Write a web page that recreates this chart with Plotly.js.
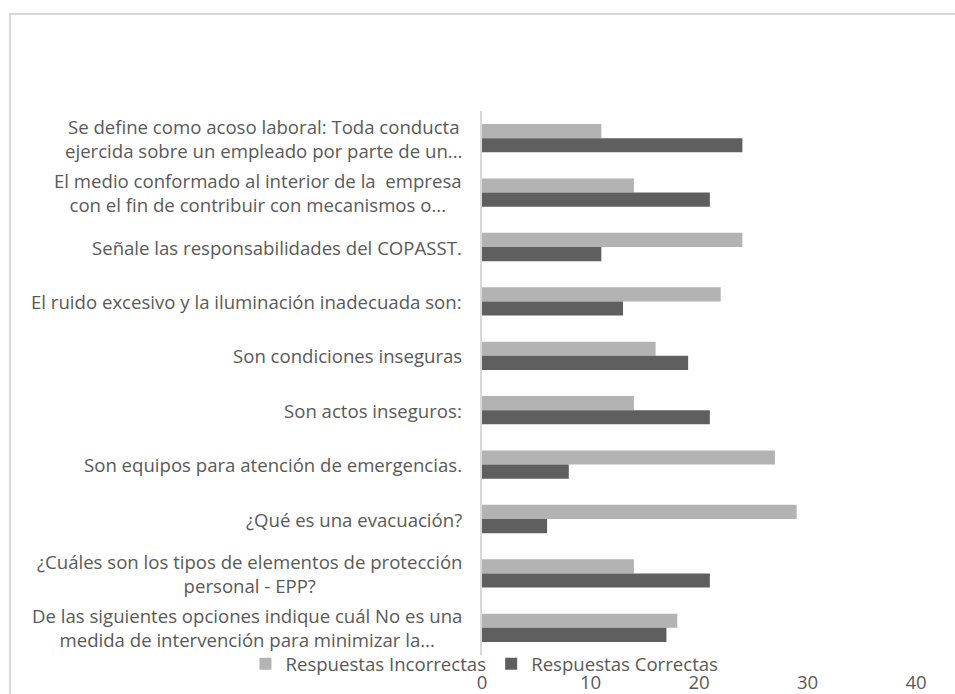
<!DOCTYPE html>
<html>
<head>
<meta charset="utf-8">
<script src="https://cdn.plot.ly/plotly-3.0.1.min.js"></script>
<style>
  html, body { margin: 0; padding: 0; background: #ffffff; }
  #wrap { position: relative; width: 955px; height: 694px; overflow: hidden; }
  #chart { position: absolute; left: 0; top: 0; width: 955px; height: 694px; }
  #frame { position: absolute; left: 9px; top: 13px; width: 980px; height: 720px;
           border: 2px solid #d9d9d9; box-sizing: border-box; pointer-events: none; }
</style>
</head>
<body>
<div id="wrap">
  <div id="frame"></div>
  <div id="chart"></div>
</div>
<script>
// Survey questions, listed top to bottom
const preguntas = [
  "Se define como acoso laboral: Toda conducta<br>ejercida sobre un empleado por parte de un...",
  "El medio conformado al interior de la  empresa<br>con el fin de contribuir con mecanismos o...",
  "Señale las responsabilidades del COPASST.",
  "El ruido excesivo y la iluminación inadecuada son:",
  "Son condiciones inseguras",
  "Son actos inseguros:",
  "Son equipos para atención de emergencias.",
  "¿Qué es una evacuación?",
  "¿Cuáles son los tipos de elementos de protección<br>personal - EPP?",
  "De las siguientes opciones indique cuál No es una<br>medida de intervención para minimizar la..."
];

// Number of answers per question
const incorrectas = [11, 14, 24, 22, 16, 14, 27, 29, 14, 18];
const correctas   = [24, 21, 11, 13, 19, 21, 8, 6, 21, 17];

const tickValores = [0, 10, 20, 30, 40];

const fuente = "'Open Sans', Lato, sans-serif";
const gris = "#595959";
const tam = 18.6;

const traces = [
  {
    type: "bar", orientation: "h",
    name: "Respuestas Incorrectas",
    y: preguntas, x: incorrectas,
    marker: { color: "#b3b3b3" },
    hoverinfo: "x+name"
  },
  {
    type: "bar", orientation: "h",
    name: "Respuestas Correctas",
    y: preguntas, x: correctas,
    marker: { color: "#5f5f5f" },
    hoverinfo: "x+name"
  }
];

// Question labels drawn as centred multi-line annotations beside the axis
const etiquetas = preguntas.map(p => ({
  xref: "paper", yref: "y",
  x: 0, y: p,
  xanchor: "right", yanchor: "middle",
  xshift: -18,
  text: p, showarrow: false, align: "center",
  font: { family: fuente, size: tam, color: gris }
}));

const layout = {
  width: 955, height: 694,
  margin: { l: 482, r: 39, t: 111, b: 39, autoexpand: false },
  paper_bgcolor: "rgba(0,0,0,0)",
  plot_bgcolor: "rgba(0,0,0,0)",
  barmode: "group",
  bargap: 0.48,
  bargroupgap: 0,
  showlegend: true,
  legend: {
    orientation: "h",
    x: -0.545, xanchor: "left",
    y: -0.017, yanchor: "middle",
    font: { family: fuente, size: tam, color: gris },
    bgcolor: "rgba(0,0,0,0)"
  },
  xaxis: {
    range: [0, 40],
    tickvals: tickValores,
    ticktext: tickValores.map(String),
    showgrid: false, zeroline: false, showline: false,
    ticks: "",
    ticklabelstandoff: 14,
    tickfont: { family: fuente, size: tam, color: gris },
    fixedrange: true
  },
  yaxis: {
    type: "category",
    autorange: "reversed",
    showticklabels: false,
    showgrid: false, zeroline: false,
    showline: true, linecolor: "#d9d9d9", linewidth: 2,
    ticks: "",
    fixedrange: true
  },
  annotations: etiquetas
};

Plotly.newPlot("chart", traces, layout, { displayModeBar: false, staticPlot: true });
</script>
</body>
</html>
